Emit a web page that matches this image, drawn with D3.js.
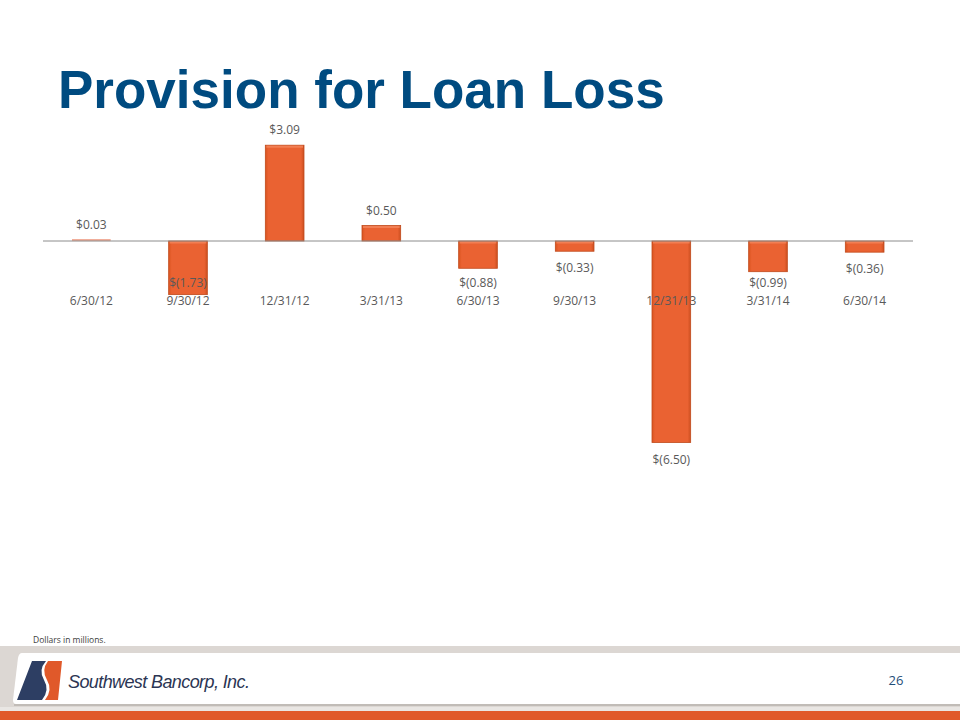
<!DOCTYPE html>
<html>
<head>
<meta charset="utf-8">
<script src="https://cdn.jsdelivr.net/npm/d3@7/dist/d3.min.js"></script>
<style>
  html, body { margin: 0; padding: 0; background: #fff; }
  svg { display: block; }
</style>
</head>
<body>
<svg id="chart" width="960" height="720"></svg>
<script>
const categories = ["6/30/12", "9/30/12", "12/31/12", "3/31/13", "6/30/13", "9/30/13", "12/31/13", "3/31/14", "6/30/14"];
const values = [0.03, -1.73, 3.09, 0.50, -0.88, -0.33, -6.50, -0.99, -0.36];
const valueLabels = ["$0.03", "$(1.73)", "$3.09", "$0.50", "$(0.88)", "$(0.33)", "$(6.50)", "$(0.99)", "$(0.36)"];
const titleText = "Provision for Loan Loss";
const noteText = "Dollars in millions.";
const companyText = "Southwest Bancorp, Inc.";
const pageNumber = "26";

const svg = d3.select("#chart");
const font = "'Open Sans', 'Noto Sans', sans-serif";

// defs
const defs = svg.append("defs");
const g1 = defs.append("linearGradient").attr("id", "barGrad").attr("x1", 0).attr("x2", 1).attr("y1", 0).attr("y2", 0);
g1.append("stop").attr("offset", "0%").attr("stop-color", "#d9541f");
g1.append("stop").attr("offset", "8%").attr("stop-color", "#ea6232");
g1.append("stop").attr("offset", "92%").attr("stop-color", "#ea6232");
g1.append("stop").attr("offset", "100%").attr("stop-color", "#cc4f20");

// Title
svg.append("text")
  .attr("x", 58).attr("y", 108)
  .attr("font-family", "'Liberation Sans', Arial, sans-serif")
  .attr("font-weight", "bold")
  .attr("font-size", 53)
  .attr("fill", "#004b80")
  .text(titleText);

// Scales
const x = d3.scaleBand().domain(categories).range([43, 913]).paddingInner(0.6).paddingOuter(0.3);
const y = d3.scaleLinear().domain([-7, 4]).range([458, 117]);

const plot = svg.append("g");

// bars
plot.selectAll("rect.bar").data(values).enter().append("rect")
  .attr("class", "bar")
  .attr("x", (d, i) => x(categories[i]))
  .attr("width", x.bandwidth())
  .attr("y", d => Math.min(y(d), y(0)) - (Math.abs(d) < 0.1 ? 1 : 0))
  .attr("height", d => Math.max(2, Math.abs(y(d) - y(0))))
  .attr("fill", d => Math.abs(d) < 0.1 ? "#f1a994" : "url(#barGrad)")
  .attr("stroke", d => Math.abs(d) < 0.1 ? "none" : "#c04a1c")
  .attr("stroke-width", 0.8);

// top highlight on bars
plot.selectAll("rect.hl").data(values.filter(v => Math.abs(v) >= 0.1)).enter().append("rect")
  .attr("x", (d) => x(categories[values.indexOf(d)]) + 1)
  .attr("width", x.bandwidth() - 2)
  .attr("y", d => Math.min(y(d), y(0)) + 0.5)
  .attr("height", 2)
  .attr("fill", "#f4875c")
  .attr("opacity", 0.8);

// zero line
svg.append("line")
  .attr("x1", 43).attr("x2", 913)
  .attr("y1", y(0)).attr("y2", y(0))
  .attr("stroke", "#8c8c8c").attr("stroke-width", 1);

// category axis labels
const axis = d3.axisBottom(x).tickSize(0).tickPadding(0);
const ax = svg.append("g").attr("transform", `translate(0, 296)`).call(axis);
ax.select(".domain").remove();
ax.selectAll("text")
  .attr("font-family", font)
  .attr("font-size", 12)
  .attr("fill", "#595959")
  .attr("dy", "0.71em");

// value labels
const catBase = 306;
svg.selectAll("text.val").data(values).enter().append("text")
  .attr("class", "val")
  .attr("x", (d, i) => x(categories[i]) + x.bandwidth() / 2)
  .attr("y", d => {
    if (d >= 0) return y(d) - 11;
    let b = y(d) + 21;
    if (b > catBase - 19 && b < catBase + 40) b = catBase - 19;
    return b;
  })
  .attr("text-anchor", "middle")
  .attr("font-family", font)
  .attr("font-size", 12)
  .attr("fill", "#595959")
  .text((d, i) => valueLabels[i]);

// note
svg.append("text")
  .attr("x", 33).attr("y", 643)
  .attr("font-family", font)
  .attr("font-size", 8.5)
  .attr("fill", "#404040")
  .text(noteText);

// footer
const foot = svg.append("g");
foot.append("rect").attr("x", 0).attr("y", 646).attr("width", 960).attr("height", 63).attr("fill", "#dcd7d3");
foot.append("rect").attr("x", 0).attr("y", 707).attr("width", 960).attr("height", 4).attr("fill", "#e9e6e3");
foot.append("rect").attr("x", 0).attr("y", 711).attr("width", 960).attr("height", 9).attr("fill", "#e0592a");
foot.append("path")
  .attr("d", "M22,653 L960,653 L960,704 L16,704 Q13,704 13,700 L18,658 Q19,653 22,653 Z")
  .attr("fill", "#ffffff");
foot.append("line").attr("x1", 14).attr("x2", 960).attr("y1", 705).attr("y2", 705).attr("stroke", "#b9b3ae").attr("stroke-width", 1.5);

// logo
const logo = foot.append("g");
logo.append("path").attr("d", "M32,661 L46,661 Q38,670 44,680 Q50,690 42,700 L17,700 Z").attr("fill", "#2d3e63");
logo.append("path").attr("d", "M48,661 L62,661 L58,700 L45,700 Q53,690 47,680 Q41,670 48,661 Z").attr("fill", "#e0592a");

foot.append("text")
  .attr("x", 68).attr("y", 688)
  .attr("font-family", "'Liberation Sans', Arial, sans-serif")
  .attr("font-style", "italic")
  .attr("font-size", 18)
  .attr("letter-spacing", -0.6)
  .attr("fill", "#2b3553")
  .text(companyText);

foot.append("text")
  .attr("x", 896).attr("y", 685)
  .attr("text-anchor", "middle")
  .attr("font-family", font)
  .attr("font-size", 13)
  .attr("fill", "#1f4e79")
  .text(pageNumber);
</script>
</body>
</html>
